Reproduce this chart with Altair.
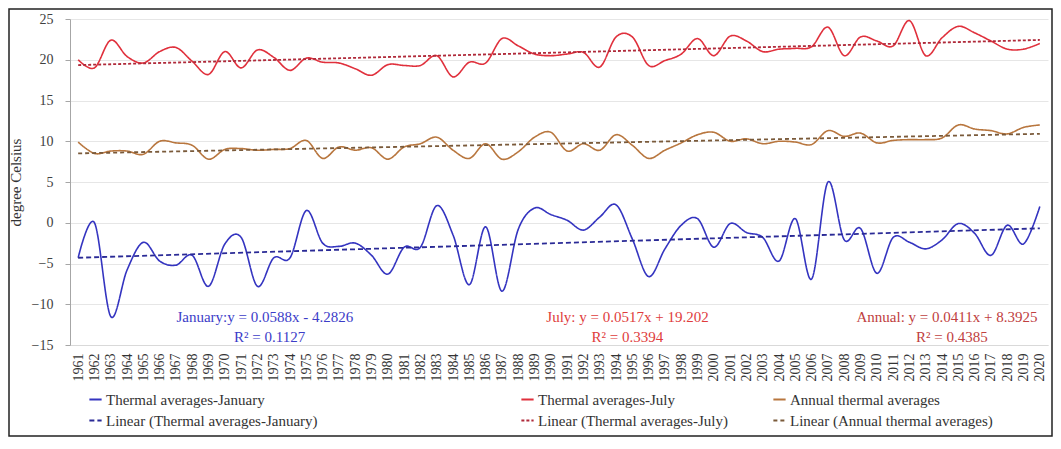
import altair as alt
import pandas as pd

years = list(range(1961, 2021))
idx = list(range(1, 61))

jan = [-4.3, 0.0, -11.5, -5.8, -2.4, -4.7, -5.2, -4.0, -7.8, -2.6,
       -1.8, -7.8, -4.3, -4.3, 1.5, -2.5, -2.9, -2.5, -4.0, -6.3,
       -3.0, -3.0, 2.1, -1.5, -7.6, -0.5, -8.4, -0.8, 1.8, 1.0,
       0.3, -0.9, 0.7, 2.2, -2.0, -6.6, -3.2, -0.3, 0.5, -3.0,
       -0.1, -1.2, -1.8, -4.7, 0.5, -6.9, 5.0, -2.1, -0.7, -6.2,
       -1.8, -2.4, -3.2, -2.1, -0.1, -1.3, -4.0, -0.3, -2.6, 2.0]

july = [20.0, 19.0, 22.4, 20.4, 19.6, 21.0, 21.5, 19.8, 18.2, 21.0,
        19.0, 21.2, 20.3, 18.7, 20.2, 19.7, 19.6, 18.9, 18.1, 19.4,
        19.3, 19.3, 20.5, 17.9, 19.7, 19.6, 22.6, 21.7, 20.7, 20.5,
        20.7, 20.9, 19.1, 22.8, 22.8, 19.3, 19.9, 20.7, 22.6, 20.5,
        22.9, 22.3, 21.0, 21.3, 21.4, 21.6, 24.0, 20.5, 22.8, 22.3,
        21.7, 24.8, 20.5, 22.7, 24.1, 23.3, 22.3, 21.3, 21.3, 22.0]

annual = [9.9, 8.5, 8.8, 8.8, 8.4, 10.0, 9.8, 9.5, 7.8, 9.0,
          9.1, 8.9, 9.0, 9.1, 10.1, 7.9, 9.3, 8.9, 9.2, 7.8,
          9.3, 9.7, 10.5, 8.9, 7.9, 9.7, 7.8, 8.7, 10.5, 11.1,
          8.8, 9.7, 8.9, 10.8, 9.5, 7.9, 8.9, 9.8, 10.8, 11.1,
          10.0, 10.3, 9.7, 10.0, 9.9, 9.6, 11.3, 10.6, 11.0, 9.8,
          10.1, 10.2, 10.2, 10.4, 12.0, 11.5, 11.3, 10.9, 11.7, 12.0]

series_names = ["Thermal averages-January", "Thermal averages-July", "Annual thermal averages"]
linear_names = ["Linear (Thermal averages-January)", "Linear (Thermal averages-July)",
                "Linear (Annual thermal averages)"]
eq_texts = ["January:y = 0.0588x - 4.2826", "July: y = 0.0517x + 19.202", "Annual: y = 0.0411x + 8.3925"]
r2_texts = ["R\u00b2 = 0.1127", "R\u00b2 = 0.3394", "R\u00b2 = 0.4385"]

FONT = "Liberation Serif"
W, H = 978, 326

x_scale = alt.Scale(domain=[0.5, 60.5], nice=False, zero=False)
x_axis = alt.Axis(values=idx, labelExpr="datum.value + 1960", labelAngle=270,
                  grid=False, ticks=False, title=None, labelFont=FONT,
                  labelFontSize=14, labelPadding=8, labelOverlap=False,
                  labelFlush=False, labelColor="#333333", labelSeparation=0,
                  domainColor="#d9d9d9")
y_scale = alt.Scale(domain=[-15, 25], nice=False)
y_axis = alt.Axis(values=list(range(-15, 30, 5)), title="degree Celsius",
                  titleFont=FONT, titleFontSize=15, titleFontWeight="normal",
                  titleColor="#333333", titlePadding=8,
                  labelFont=FONT, labelFontSize=14, labelColor="#404040",
                  labelPadding=12, tickSize=5, tickColor="#a6a6a6",
                  domainColor="#a6a6a6", gridColor="#e6e6e6")

x_enc = alt.X("i:Q", scale=x_scale, axis=x_axis)
y_enc = alt.Y("v:Q", scale=y_scale, axis=y_axis)


def month_layer(values, name, lin_name, c_line, c_trend, dash, lx):
    df = pd.DataFrame({"i": idx, "year": years, "v": values, "series": name})
    dom = [name, lin_name]
    leg = alt.Legend(orient="none", legendX=lx, legendY=373, title=None,
                     labelFont=FONT, labelFontSize=15, labelColor="#333333",
                     labelLimit=400,
                     symbolType="stroke", symbolSize=150, symbolStrokeWidth=2,
                     rowPadding=5, labelOffset=3, padding=0)
    color = alt.Color("series:N", scale=alt.Scale(domain=dom, range=[c_line, c_trend]), legend=leg)
    sdash = alt.StrokeDash("series:N", scale=alt.Scale(domain=dom, range=[[1, 0], dash]), legend=leg)
    line = alt.Chart(df).mark_line(interpolate="cardinal", strokeWidth=1.6).encode(
        x=x_enc, y=y_enc, color=color, strokeDash=sdash)
    trend = alt.Chart(df).transform_regression("i", "v").transform_calculate(
        series=f"'{lin_name}'").mark_line(strokeWidth=1.8).encode(
        x=x_enc, y=y_enc, color=color, strokeDash=sdash)
    return alt.layer(line, trend)


jan_l = month_layer(jan, series_names[0], linear_names[0], "#3434c0", "#2a2a96", [5, 3], 18)
jul_l = month_layer(july, series_names[1], linear_names[1], "#e0303c", "#b02a3a", [3, 2], 450)
ann_l = month_layer(annual, series_names[2], linear_names[2], "#b8763e", "#7a5a3a", [4, 3], 702)

dummy = pd.DataFrame({"a": [0]})


def ann_text(text, xi, yv, color):
    return alt.Chart(dummy).mark_text(text=text, font=FONT, fontSize=15, color=color,
                                      align="center", baseline="middle").encode(
        x=alt.XDatum(xi, scale=x_scale, axis=x_axis),
        y=alt.YDatum(yv, scale=y_scale, axis=y_axis))


texts = [
    ann_text(eq_texts[0], 12.45, -11.6, "#3c3cc8"),
    ann_text(r2_texts[0], 12.75, -14.0, "#3c3cc8"),
    ann_text(eq_texts[1], 34.7, -11.6, "#e03c3c"),
    ann_text(r2_texts[1], 34.7, -14.0, "#e03c3c"),
    ann_text(eq_texts[2], 54.3, -11.6, "#c04040"),
    ann_text(r2_texts[2], 54.6, -14.0, "#c04040"),
]

frame = alt.Chart(dummy).mark_rect(fillOpacity=0, stroke="#222222", strokeWidth=1.5).encode(
    x=alt.value(-61), x2=alt.value(W + 4), y=alt.value(-10), y2=alt.value(H + 91))

chart = alt.layer(jan_l, jul_l, ann_l, *texts, frame).resolve_scale(
    color="independent", strokeDash="independent"
).properties(
    width=W, height=H,
    autosize=alt.AutoSizeParams(type="none"),
    padding={"left": 62, "top": 11, "right": 5, "bottom": 92},
    background="white",
).configure_view(stroke="transparent").configure_axis(labelOverlap=False)

chart.save("out.html", embed_options={"renderer": "svg", "actions": False})
